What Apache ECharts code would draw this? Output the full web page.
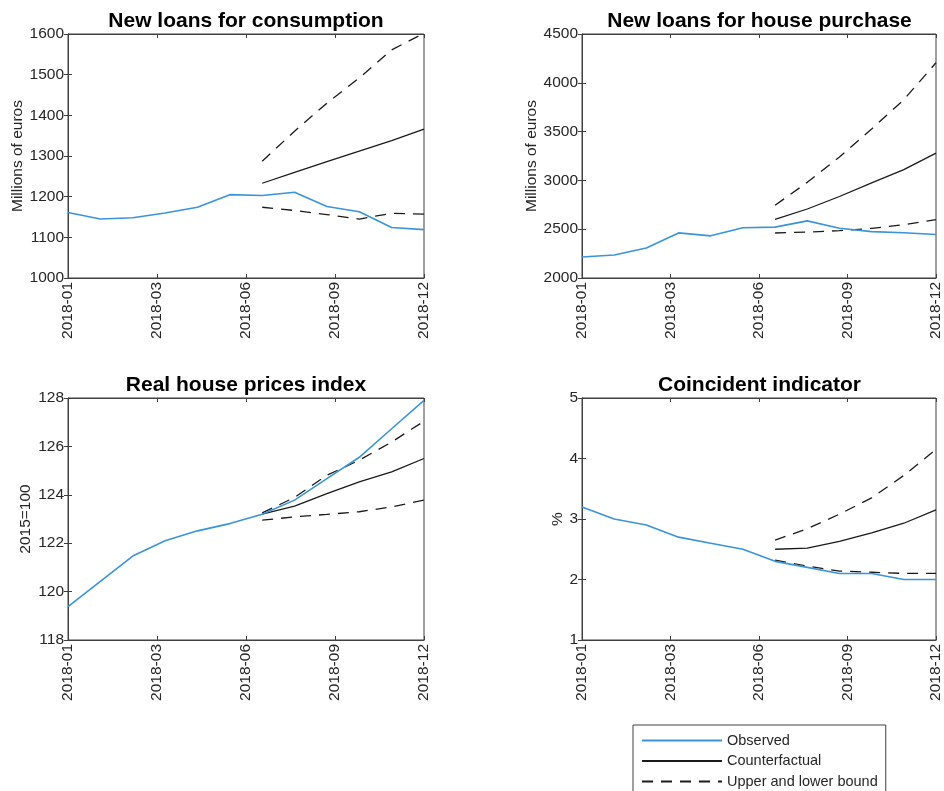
<!DOCTYPE html>
<html>
<head>
<meta charset="utf-8">
<script src="https://cdn.jsdelivr.net/npm/echarts@6/dist/echarts.min.js"></script>
<style>
  html, body { margin: 0; padding: 0; background: #fff; }
  #chart { width: 944px; height: 791px; }
</style>
</head>
<body>
<div id="chart"></div>
<script>
// Monthly observations, Jan–Dec 2018 (index 0..11)
const months = ['2018-01','2018-02','2018-03','2018-04','2018-05','2018-06',
                '2018-07','2018-08','2018-09','2018-10','2018-11','2018-12'];
const xTickLabels = ['2018-01', '2018-03', '2018-06', '2018-09', '2018-12'];
const scenarioStart = 6; // counterfactual path begins in July

// New loans for consumption (millions of euros)
const consObserved = [1161, 1145, 1148, 1160, 1174, 1205, 1203, 1211, 1176, 1163, 1124, 1119];
const consCounter  = [1233, 1260, 1286, 1312, 1338, 1366];
const consUpper    = [1287, 1361, 1430, 1492, 1561, 1602];
const consLower    = [1174, 1166, 1156, 1145, 1159, 1157];

// New loans for house purchase (millions of euros)
const houseObserved = [2215, 2236, 2307, 2462, 2432, 2515, 2521, 2585, 2510, 2475, 2463, 2445];
const houseCounter  = [2600, 2707, 2835, 2975, 3110, 3280];
const houseUpper    = [2745, 2980, 3240, 3527, 3827, 4205];
const houseLower    = [2461, 2471, 2485, 2509, 2546, 2598];

// Real house prices index (2015=100)
const hpObserved = [119.38, 120.42, 121.47, 122.10, 122.51, 122.81, 123.20, 123.78, 124.67, 125.55, 126.73, 127.90];
const hpCounter  = [123.20, 123.53, 124.05, 124.53, 124.95, 125.50];
const hpUpper    = [123.25, 123.89, 124.81, 125.43, 126.18, 127.04];
const hpLower    = [122.95, 123.09, 123.19, 123.30, 123.50, 123.78];

// Coincident indicator (%)
const ciObserved = [3.2, 3.0, 2.9, 2.7, 2.6, 2.5, 2.3, 2.2, 2.1, 2.1, 2.0, 2.0];
const ciCounter  = [2.50, 2.52, 2.63, 2.77, 2.93, 3.15];
const ciUpper    = [2.65, 2.84, 3.08, 3.35, 3.72, 4.15];
const ciLower    = [2.32, 2.22, 2.14, 2.12, 2.10, 2.10];

const panels = [
  { title: 'New loans for consumption', yName: 'Millions of euros', nameGap: 41,
    yMin: 1000, yMax: 1600, yStep: 100,
    obs: consObserved, cf: consCounter, up: consUpper, lo: consLower,
    left: 68, top: 34, width: 356, height: 244 },
  { title: 'New loans for house purchase', yName: 'Millions of euros', nameGap: 41,
    yMin: 2000, yMax: 4500, yStep: 500,
    obs: houseObserved, cf: houseCounter, up: houseUpper, lo: houseLower,
    left: 582, top: 34, width: 355, height: 244 },
  { title: 'Real house prices index', yName: '2015=100', nameGap: 34,
    yMin: 118, yMax: 128, yStep: 2,
    obs: hpObserved, cf: hpCounter, up: hpUpper, lo: hpLower,
    left: 68, top: 398, width: 356, height: 242 },
  { title: 'Coincident indicator', yName: '%', nameGap: 16,
    yMin: 1, yMax: 5, yStep: 1,
    obs: ciObserved, cf: ciCounter, up: ciUpper, lo: ciLower,
    left: 582, top: 398, width: 355, height: 242 }
];

const FONT = 'Liberation Sans, Arial, sans-serif';
const AXIS_COLOR = '#404040';
const TEXT_COLOR = '#262626';
const BLUE = '#3b94d9';
const lastIdx = months.length - 1;
const xStep = lastIdx / 4;

const grids = [], xAxes = [], yAxes = [], titles = [], series = [];

function pairs(values, offset) {
  return values.map((v, i) => [offset + i, v]);
}

panels.forEach((p, k) => {
  grids.push({
    left: p.left, top: p.top, width: p.width, height: p.height,
    show: true, borderColor: AXIS_COLOR, borderWidth: 1, containLabel: false
  });
  titles.push({
    text: p.title,
    left: p.left + p.width / 2,
    top: p.top - 23,
    textAlign: 'center',
    padding: 0,
    textStyle: { fontFamily: FONT, fontSize: 21, fontWeight: 'bold', color: '#000' }
  });

  const xCommon = {
    type: 'value', gridIndex: k, min: 0, max: lastIdx, interval: xStep,
    splitLine: { show: false },
    axisLine: { show: true, lineStyle: { color: AXIS_COLOR, width: 1 } },
    axisTick: { show: true, inside: true, length: 4, lineStyle: { color: AXIS_COLOR } }
  };
  xAxes.push(Object.assign({}, xCommon, {
    position: 'bottom',
    axisLabel: {
      rotate: 90, margin: 4, fontFamily: FONT, fontSize: 15.5, color: TEXT_COLOR,
      showMinLabel: true, showMaxLabel: true,
      formatter: v => xTickLabels[Math.round(v / xStep)]
    }
  }));
  xAxes.push(Object.assign({}, xCommon, {
    position: 'top', axisLabel: { show: false }
  }));

  const yCommon = {
    type: 'value', gridIndex: k, min: p.yMin, max: p.yMax, interval: p.yStep,
    splitLine: { show: false },
    axisLine: { show: true, lineStyle: { color: AXIS_COLOR, width: 1 } },
    axisTick: { show: true, inside: true, length: 4, lineStyle: { color: AXIS_COLOR } }
  };
  yAxes.push(Object.assign({}, yCommon, {
    position: 'left',
    name: p.yName, nameLocation: 'middle', nameRotate: 90, nameGap: p.nameGap,
    nameTextStyle: { fontFamily: FONT, fontSize: 15.5, color: TEXT_COLOR },
    axisLabel: { margin: 4, fontFamily: FONT, fontSize: 15.5, color: TEXT_COLOR,
                 showMinLabel: true, showMaxLabel: true,
                 formatter: v => String(v) }
  }));
  yAxes.push(Object.assign({}, yCommon, {
    position: 'right', axisLabel: { show: false }
  }));

  const xi = k * 2, yi = k * 2;
  series.push({
    name: 'Observed', type: 'line', xAxisIndex: xi, yAxisIndex: yi,
    data: pairs(p.obs, 0), showSymbol: false, symbol: 'none', z: 3,
    lineStyle: { color: BLUE, width: 1.6 }, itemStyle: { color: BLUE }
  });
  series.push({
    name: 'Counterfactual', type: 'line', xAxisIndex: xi, yAxisIndex: yi,
    data: pairs(p.cf, scenarioStart), showSymbol: false, symbol: 'none', z: 2,
    lineStyle: { color: '#1a1a1a', width: 1.3 }, itemStyle: { color: '#1a1a1a' }
  });
  [p.up, p.lo].forEach(bound => {
    series.push({
      name: 'Upper and lower bound', type: 'line', xAxisIndex: xi, yAxisIndex: yi,
      data: pairs(bound, scenarioStart), showSymbol: false, symbol: 'none', z: 2,
      lineStyle: { color: '#1a1a1a', width: 1.3, type: [11, 8] },
      itemStyle: { color: '#1a1a1a' }
    });
  });
});

const chart = echarts.init(document.getElementById('chart'), null, { renderer: 'canvas' });
chart.setOption({
  animation: false,
  backgroundColor: '#fff',
  title: titles,
  grid: grids,
  xAxis: xAxes,
  yAxis: yAxes,
  legend: {
    orient: 'vertical',
    left: 633, top: 725,
    height: 200,
    padding: 8,
    itemWidth: 80, itemHeight: 14, itemGap: 5.5,
    backgroundColor: '#fff',
    borderColor: '#404040', borderWidth: 1, borderRadius: 0,
    data: ['Observed', 'Counterfactual', 'Upper and lower bound'],
    textStyle: { fontFamily: FONT, fontSize: 14.5, color: TEXT_COLOR },
    itemStyle: { opacity: 0 },
    selectedMode: false
  },
  series: series
});
</script>
</body>
</html>
